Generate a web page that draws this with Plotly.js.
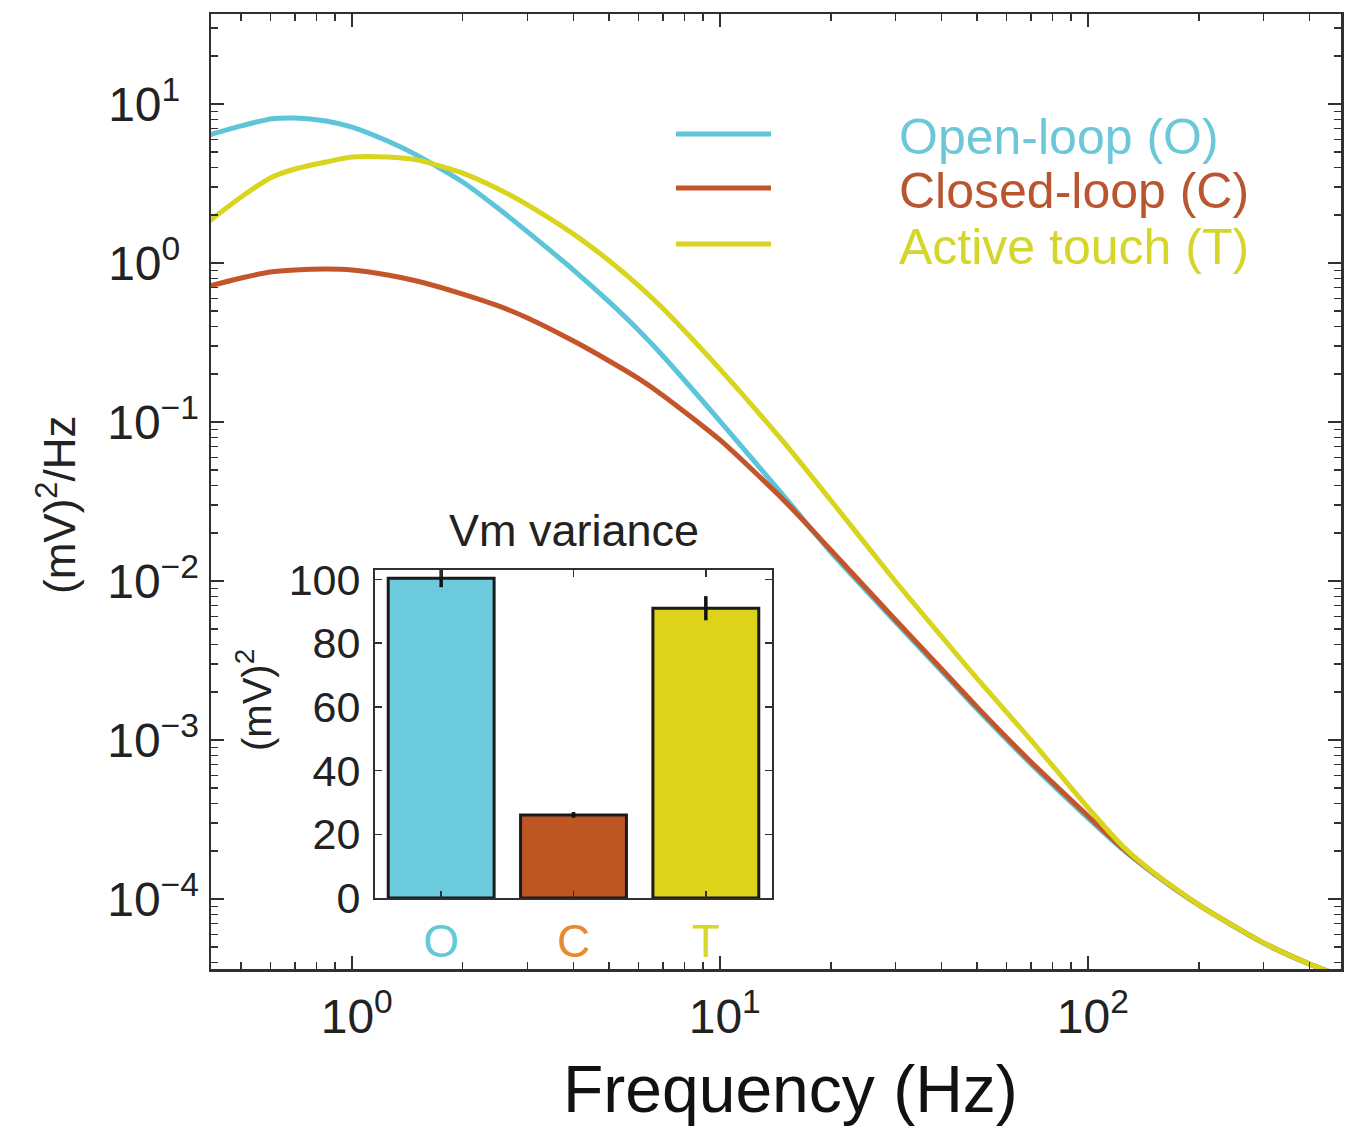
<!DOCTYPE html>
<html>
<head>
<meta charset="utf-8">
<script src="https://cdn.plot.ly/plotly-3.0.1.min.js"></script>
<style>
  html, body { margin: 0; padding: 0; background: #ffffff; }
  #chart { width: 1345px; height: 1132px; }
</style>
</head>
<body>
<div id="chart"></div>
<script>
// Membrane potential power spectra for the three conditions
const freqHz = [0.4, 0.5, 0.6, 0.7, 0.85, 1, 1.25, 1.5, 2, 2.5, 3, 4, 5, 6, 7,
                10, 15, 20, 30, 40, 50, 70, 100, 125, 150, 200, 300, 400, 500];

const openLoopPSD = [6.30, 7.28, 8.05, 8.17, 7.82, 7.16, 5.85, 4.77, 3.23, 2.20, 1.57,
                     0.903, 0.569, 0.379, 0.260, 0.1014, 0.0337, 0.0152, 5.52e-3,
                     2.72e-3, 1.56e-3, 7.07e-4, 3.23e-4, 2.03e-4, 1.46e-4, 9.17e-5,
                     5.28e-5, 3.90e-5, 3.19e-5];

const closedLoopPSD = [0.706, 0.805, 0.877, 0.904, 0.916, 0.904, 0.841, 0.771, 0.638,
                       0.537, 0.451, 0.323, 0.242, 0.188, 0.147, 0.0771, 0.0318,
                       0.01567, 5.69e-3, 2.80e-3, 1.61e-3, 7.28e-4, 3.33e-4, 2.06e-4,
                       1.47e-4, 9.2e-5, 5.3e-5, 3.9e-5, 3.2e-5];

const activeTouchPSD = [1.76, 2.60, 3.43, 3.90, 4.32, 4.64, 4.64, 4.45, 3.68, 2.92,
                        2.32, 1.52, 1.034, 0.724, 0.518, 0.215, 0.0733, 0.0322,
                        9.93e-3, 4.48e-3, 2.43e-3, 1.00e-3, 3.75e-4, 2.12e-4, 1.48e-4,
                        9.2e-5, 5.3e-5, 3.9e-5, 3.2e-5];

// Inset: Vm variance per condition
const varianceCats = ['O', 'C', 'T'];
const varianceMean = [100.4, 26.1, 91.0];
const varianceErr = [2.8, 0.9, 3.8];

// Axis tick labels (positive exponents padded with a figure space so the
// base "10" lines up with the negative-exponent labels)
const freqTickVals = [1, 10, 100];
const freqTickText = ['\u200910<sup>0</sup>', '\u200910<sup>1</sup>', '\u200910<sup>2</sup>'];
const psdTickVals = [1e-4, 1e-3, 1e-2, 1e-1, 1, 10];
const psdTickText = ['10<sup>\u22124</sup>', '10<sup>\u22123</sup>', '10<sup>\u22122</sup>',
                     '10<sup>\u22121</sup>', '10<sup>0\u2007</sup>', '10<sup>1\u2007</sup>'];
const seriesNames = ['Open-loop (O)', 'Closed-loop (C)', 'Active touch (T)'];

// Colours
const cyan = '#5cc5d9', rust = '#c4552b', olive = '#d9d41e';
const cyanText = '#6cc8d8', rustText = '#b9552f', oliveText = '#d6d52a';
const barFill = ['#6bcbdc', '#be5624', '#dcd31a'];
const catLabelColor = ['#64c8d8', '#e88a30', '#d9d62a'];
const axisColor = '#303030';
const FONT = 'Liberation Sans, Arial, Helvetica, sans-serif';

// minor tick positions (2..9 of each decade)
function minorTicks(lo, hi) {
  const out = [];
  for (let d = lo; d <= hi; d++) {
    for (let m = 2; m <= 9; m++) out.push(m * Math.pow(10, d));
  }
  return out;
}

const lineStyle = c => ({ color: c, width: 5, shape: 'spline', smoothing: 0.6 });

const traces = [
  { x: freqHz, y: openLoopPSD, type: 'scatter', mode: 'lines', name: seriesNames[0],
    line: lineStyle(cyan), xaxis: 'x', yaxis: 'y' },
  { x: freqHz, y: closedLoopPSD, type: 'scatter', mode: 'lines', name: seriesNames[1],
    line: lineStyle(rust), xaxis: 'x', yaxis: 'y' },
  { x: freqHz, y: activeTouchPSD, type: 'scatter', mode: 'lines', name: seriesNames[2],
    line: lineStyle(olive), xaxis: 'x', yaxis: 'y' },
  { x: varianceCats, y: varianceMean, type: 'bar', xaxis: 'x2', yaxis: 'y2', width: 0.8,
    marker: { color: barFill, line: { color: '#1a1a1a', width: 3 } },
    error_y: { type: 'data', array: varianceErr, visible: true, color: '#111111',
               thickness: 3.5, width: 0 } }
];

// plot area in pixels: x 211..1341, y 14..969
const PX = { l: 211, r: 1341, t: 14, b: 969 };
const px2x = p => (p - PX.l) / (PX.r - PX.l);
const px2y = p => (PX.b - p) / (PX.b - PX.t);

const legendRows = [
  { text: seriesNames[0], color: cyanText, line: cyan, y: 135 },
  { text: seriesNames[1], color: rustText, line: rust, y: 189 },
  { text: seriesNames[2], color: oliveText, line: olive, y: 245 }
];

const annotations = [
  { text: 'Frequency (Hz)', xref: 'paper', yref: 'paper', x: px2x(790), y: px2y(1089),
    xanchor: 'center', yanchor: 'middle', showarrow: false,
    font: { family: FONT, size: 66, color: '#111111' } },
  { text: '(mV)<sup>2</sup>/Hz', xref: 'paper', yref: 'paper', x: px2x(56), y: px2y(505),
    xanchor: 'center', yanchor: 'middle', showarrow: false, textangle: -90,
    font: { family: FONT, size: 44, color: '#222222' } },
  { text: 'Vm variance', xref: 'paper', yref: 'paper', x: px2x(574), y: px2y(530),
    xanchor: 'center', yanchor: 'middle', showarrow: false,
    font: { family: FONT, size: 45, color: '#222222' } },
  { text: '(mV)<sup>2</sup>', xref: 'paper', yref: 'paper', x: px2x(254), y: px2y(700),
    xanchor: 'center', yanchor: 'middle', showarrow: false, textangle: -90,
    font: { family: FONT, size: 40, color: '#222222' } }
];
const shapes = [];
legendRows.forEach(r => {
  annotations.push({ text: r.text, xref: 'paper', yref: 'paper', x: px2x(897), y: px2y(r.y + 2),
    xanchor: 'left', yanchor: 'middle', showarrow: false,
    font: { family: FONT, size: 50, color: r.color } });
  shapes.push({ type: 'line', xref: 'paper', yref: 'paper', x0: px2x(676), x1: px2x(771),
    y0: px2y(r.y - 1), y1: px2y(r.y - 1), line: { color: r.line, width: 5 } });
});

const layout = {
  width: 1345, height: 1132,
  margin: { l: PX.l, r: 1345 - PX.r, t: PX.t, b: 1132 - PX.b, pad: 0 },
  paper_bgcolor: '#ffffff', plot_bgcolor: '#ffffff',
  showlegend: false,
  font: { family: FONT, color: '#222222' },
  xaxis: {
    type: 'log', range: [Math.log10(0.414), Math.log10(487)],
    showline: true, linecolor: axisColor, linewidth: 2.5, mirror: 'allticks',
    ticks: 'inside', ticklen: 13, tickwidth: 2, tickcolor: axisColor,
    tickmode: 'array', tickvals: freqTickVals, ticktext: freqTickText,
    tickfont: { family: FONT, size: 48, color: '#222222' },
    ticklabelstandoff: 4,
    showgrid: false, zeroline: false,
    minor: { tickmode: 'array', tickvals: minorTicks(-1, 2), ticks: 'inside', ticklen: 7,
             tickwidth: 1.5, tickcolor: axisColor, showgrid: false }
  },
  yaxis: {
    type: 'log', range: [-4.44, 1.566],
    showline: true, linecolor: axisColor, linewidth: 2.5, mirror: 'allticks',
    ticks: 'inside', ticklen: 13, tickwidth: 2, tickcolor: axisColor,
    tickmode: 'array', tickvals: psdTickVals, ticktext: psdTickText,
    tickfont: { family: FONT, size: 48, color: '#222222' },
    ticklabelstandoff: 0,
    showgrid: false, zeroline: false,
    minor: { tickmode: 'array', tickvals: minorTicks(-5, 1), ticks: 'inside', ticklen: 7,
             tickwidth: 1.5, tickcolor: axisColor, showgrid: false }
  },
  xaxis2: {
    domain: [px2x(375), px2x(772)], anchor: 'y2', type: 'category',
    range: [-0.5, 2.5],
    showline: true, linecolor: axisColor, linewidth: 2, mirror: 'allticks',
    ticks: 'inside', ticklen: 7, tickwidth: 1.5, tickcolor: axisColor,
    tickmode: 'array', tickvals: varianceCats,
    ticktext: varianceCats.map((c, i) => '<span style="color:' + catLabelColor[i] + '">' + c + '</span>'),
    tickfont: { family: FONT, size: 46 },
    ticklabelstandoff: 2,
    showgrid: false, zeroline: false
  },
  yaxis2: {
    domain: [px2y(898), px2y(570)], anchor: 'x2', range: [0, 103],
    showline: true, linecolor: axisColor, linewidth: 2, mirror: 'allticks',
    ticks: 'inside', ticklen: 7, tickwidth: 1.5, tickcolor: axisColor,
    tickmode: 'array', tickvals: [0, 20, 40, 60, 80, 100],
    tickfont: { family: FONT, size: 43, color: '#222222' },
    ticklabelstandoff: 4,
    showgrid: false, zeroline: false
  },
  annotations: annotations,
  shapes: shapes
};

Plotly.newPlot('chart', traces, layout, { displayModeBar: false, staticPlot: true });
</script>
</body>
</html>
